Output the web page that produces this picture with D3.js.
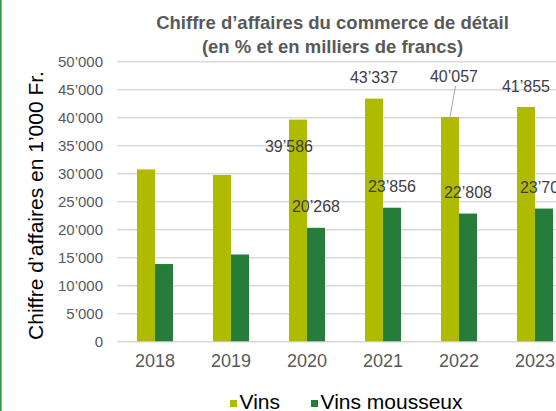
<!DOCTYPE html>
<html>
<head>
<meta charset="utf-8">
<script src="https://cdn.jsdelivr.net/npm/d3@7"></script>
<style>
  html, body { margin: 0; padding: 0; background: #fff; }
  svg { display: block; font-family: "Liberation Sans", Arial, sans-serif; }
</style>
</head>
<body>
<div id="chart"></div>
<script>
// data
const years = ["2018", "2019", "2020", "2021", "2022", "2023"];
const vins = [30700, 29700, 39586, 43337, 40057, 41855];
const mousseux = [13800, 15500, 20268, 23856, 22808, 23704];
const yTicks = [0, 5000, 10000, 15000, 20000, 25000, 30000, 35000, 40000, 45000, 50000];
const seriesNames = ["Vins", "Vins mousseux"];
const labelledYears = ["2020", "2021", "2022", "2023"];

const colors = {"Vins": "#afbb00", "Vins mousseux": "#267d3b"};

// labels were moved by hand in the original, offsets from default spot
const labelNudge = {
  "2020-Vins": {dx: -9, dy: 48},
  "2022-Vins": {dx: 4, dy: -20, leader: true}
};

const width = 556, height = 411;
const margin = {top: 61.3, right: -17, bottom: 69.7, left: 117};

const fmt = d3.formatLocale({decimal: ".", thousands: "\u2019", grouping: [3], currency: ["", ""]}).format(",d");

const svg = d3.select("#chart").append("svg")
  .attr("width", width)
  .attr("height", height)
  .attr("viewBox", [0, 0, width, height]);

let x = d3.scaleBand()
  .domain(years)
  .range([margin.left, width - margin.right])
  .paddingInner(40 / 76)
  .paddingOuter(20 / 76);

let x1 = d3.scaleBand()
  .domain(seriesNames)
  .range([0, x.bandwidth()]);

let y = d3.scaleLinear()
  .domain([0, 50000])
  .range([height - margin.bottom, margin.top]);

// green edge of the slide
svg.append("rect")
  .attr("x", 0).attr("y", 0)
  .attr("width", 1.6).attr("height", height)
  .attr("fill", "#2e9b47");

// title
svg.append("text")
  .attr("x", 332.5)
  .attr("y", 29)
  .attr("text-anchor", "middle")
  .attr("font-weight", "bold")
  .attr("font-size", 18.5)
  .attr("fill", "#595959")
  .selectAll("tspan")
  .data(["Chiffre d\u2019affaires du commerce de d\u00e9tail", "(en % et en milliers de francs)"])
  .join("tspan")
  .attr("x", 332.5)
  .attr("dy", (d, i) => i ? 24 : 0)
  .text(d => d);

// y axis with gridlines
let yAxis = g => g
  .attr("transform", `translate(${margin.left},0)`)
  .call(d3.axisLeft(y).tickValues(yTicks).tickFormat(fmt)
    .tickSize(-(width - margin.right - margin.left)).tickPadding(14))
  .call(g => g.select(".domain").remove())
  .call(g => g.selectAll(".tick line").attr("stroke", "#d9d9d9").attr("stroke-width", 1.5))
  .call(g => g.selectAll(".tick text")
    .attr("font-size", 15)
    .attr("fill", "#595959")
    .attr("font-family", "Liberation Sans, Arial, sans-serif"));

svg.append("g").call(yAxis);

svg.append("text")
  .attr("transform", `translate(43,205.5) rotate(-90)`)
  .attr("text-anchor", "middle")
  .attr("font-size", 21)
  .attr("fill", "#000")
  .text("Chiffre d\u2019affaires en 1\u2019000 Fr.");

// x axis labels
let xAxis = g => g
  .attr("transform", `translate(0,${y(0)})`)
  .call(d3.axisBottom(x).tickSize(0).tickPadding(13))
  .call(g => g.select(".domain").remove())
  .call(g => g.selectAll(".tick text")
    .attr("font-size", 18)
    .attr("fill", "#595959")
    .attr("font-family", "Liberation Sans, Arial, sans-serif"));

svg.append("g").call(xAxis);

// bars
const rows = years.map((year, i) => ({
  year,
  values: [
    {key: "Vins", value: vins[i]},
    {key: "Vins mousseux", value: mousseux[i]}
  ]
}));

const groups = svg.append("g")
  .selectAll("g")
  .data(rows)
  .join("g")
  .attr("transform", d => `translate(${x(d.year)},0)`);

groups.selectAll("rect")
  .data(d => d.values)
  .join("rect")
  .attr("x", d => x1(d.key))
  .attr("y", d => y(d.value))
  .attr("width", x1.bandwidth())
  .attr("height", d => y(0) - y(d.value))
  .attr("fill", d => colors[d.key]);

// value labels
const labels = [];
rows.forEach(r => {
  if (!labelledYears.includes(r.year)) return;
  r.values.forEach(v => {
    const nudge = labelNudge[`${r.year}-${v.key}`] || {dx: 0, dy: 0};
    const bx = x(r.year) + x1(v.key) + x1.bandwidth() / 2;
    const by = y(v.value);
    labels.push({text: fmt(v.value), bx, by, lx: bx + nudge.dx, ly: by - 21 + nudge.dy, leader: nudge.leader});
  });
});

svg.append("g")
  .selectAll("line")
  .data(labels.filter(d => d.leader))
  .join("line")
  .attr("x1", d => d.lx + 1.5)
  .attr("y1", d => d.ly + 10)
  .attr("x2", d => d.bx)
  .attr("y2", d => d.by)
  .attr("stroke", "#a6a6a6")
  .attr("stroke-width", 1);

svg.append("g")
  .selectAll("text")
  .data(labels)
  .join("text")
  .attr("x", d => d.lx)
  .attr("y", d => d.ly)
  .attr("dy", "0.35em")
  .attr("text-anchor", "middle")
  .attr("font-size", 16)
  .attr("fill", "#404040")
  .text(d => d.text);

// legend
const legendItems = [
  {key: "Vins", x: 230},
  {key: "Vins mousseux", x: 311}
];

const legend = svg.append("g")
  .selectAll("g")
  .data(legendItems)
  .join("g")
  .attr("transform", d => `translate(${d.x},400)`);

legend.append("rect")
  .attr("width", 7)
  .attr("height", 7)
  .attr("fill", d => colors[d.key]);

legend.append("text")
  .attr("x", 9.5)
  .attr("y", 8.5)
  .attr("font-size", 21)
  .attr("fill", "#000")
  .text(d => d.key);
</script>
</body>
</html>
